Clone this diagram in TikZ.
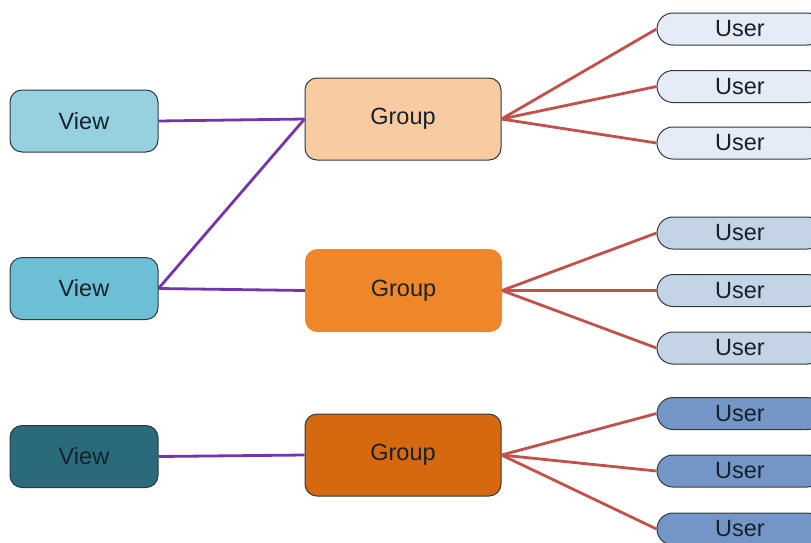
\documentclass[tikz,border=0pt]{standalone}
\usepackage{fontspec}
\setmainfont{Liberation Sans}
\definecolor{vA}{HTML}{97D0DF}
\definecolor{vB}{HTML}{6DBFD5}
\definecolor{vC}{HTML}{2B6A7B}
\definecolor{gA}{HTML}{F9CBA2}
\definecolor{gB}{HTML}{F0862A}
\definecolor{gC}{HTML}{D6680F}
\definecolor{uA}{HTML}{E5ECF7}
\definecolor{uB}{HTML}{C4D3E6}
\definecolor{uC}{HTML}{7396C6}
\definecolor{purp}{HTML}{7434AE}
\definecolor{redl}{HTML}{C4504C}
\definecolor{bord}{HTML}{2E3A40}
\definecolor{txt}{HTML}{15222B}
\begin{document}
\begin{tikzpicture}[x=1pt,y=-1pt,
  every node/.style={font=\fontsize{23.5}{25}\selectfont, text=txt, inner sep=0pt},
  viewbox/.style={draw=bord, line width=1pt, rounded corners=12pt, minimum width=148pt, minimum height=62pt},
  groupbox/.style={draw=bord, line width=1pt, rounded corners=12pt, minimum width=196pt, minimum height=82pt},
  userbox/.style={draw=bord, line width=1pt, rounded corners=16pt, minimum width=166pt, minimum height=32pt},
  vline/.style={draw=purp, line width=2.8pt},
  uline/.style={draw=redl, line width=2.8pt}]
\useasboundingbox (0,0) rectangle (811,542);
\clip (0,0) rectangle (811,542);
\node[viewbox, fill=vA] (v1) at (84,121) {View};
\node[viewbox, fill=vB] (v2) at (84,288.5) {View};
\node[viewbox, fill=vC] (v3) at (84,456.5) {View};
\node[groupbox, fill=gA] (g1) at (403,119) {Group};
\node[groupbox, fill=gB, draw=gB] (g2) at (403.5,290.5) {Group};
\node[groupbox, fill=gC] (g3) at (403,455) {Group};
\node[userbox, fill=uA] (u1) at (740,29) {User};
\node[userbox, fill=uA] (u2) at (740,86.5) {User};
\node[userbox, fill=uA] (u3) at (740,143) {User};
\node[userbox, fill=uB] (u4) at (740,233) {User};
\node[userbox, fill=uB] (u5) at (740,290.5) {User};
\node[userbox, fill=uB] (u6) at (740,348) {User};
\node[userbox, fill=uC] (u7) at (740,413.5) {User};
\node[userbox, fill=uC] (u8) at (740,471) {User};
\node[userbox, fill=uC] (u9) at (740,529) {User};
\draw[vline] (v1.east) -- (g1.west);
\draw[vline] (v2.east) -- (g1.west);
\draw[vline] (v2.east) -- (g2.west);
\draw[vline] (v3.east) -- (g3.west);
\foreach \u in {u1,u2,u3} \draw[uline] (g1.east) -- (\u.west);
\foreach \u in {u4,u5,u6} \draw[uline] (g2.east) -- (\u.west);
\foreach \u in {u7,u8,u9} \draw[uline] (g3.east) -- (\u.west);
\end{tikzpicture}
\end{document}
